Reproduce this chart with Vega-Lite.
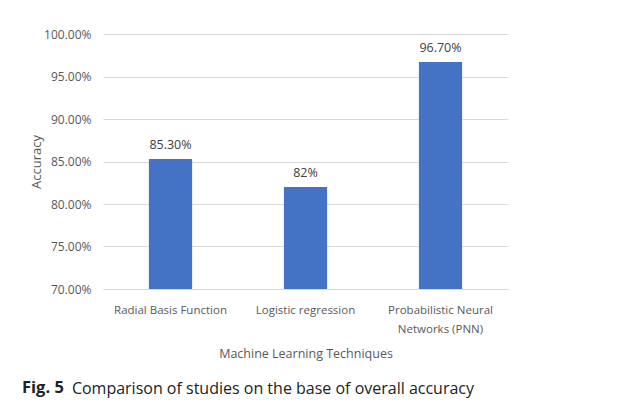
{
  "$schema": "https://vega.github.io/schema/vega-lite/v6.json",
  "autosize": {"type": "none"},
  "width": 405,
  "height": 255,
  "padding": {"left": 103, "top": 34, "right": 117, "bottom": 113},
  "background": "white",
  "data": {
    "values": [
      {"technique": "Radial Basis Function", "accuracy": 0.853, "label": "85.30%"},
      {"technique": "Logistic regression", "accuracy": 0.82, "label": "82%"},
      {"technique": "Probabilistic Neural Networks (PNN)", "accuracy": 0.967, "label": "96.70%"}
    ]
  },
  "title": {
    "text": "Fig. 5",
    "subtitle": "\u200b\u00a0\u00a0\u00a0\u00a0\u00a0\u00a0\u00a0\u00a0\u00a0\u00a0\u00a0\u00a0Comparison of studies on the base of overall accuracy",
    "orient": "bottom",
    "anchor": "start",
    "frame": "group",
    "dx": -81,
    "offset": 20,
    "font": "Open Sans",
    "fontSize": 16.5,
    "fontWeight": "bold",
    "color": "#222222",
    "subtitleFont": "Open Sans",
    "subtitleFontSize": 16,
    "subtitleFontWeight": "normal",
    "subtitleColor": "#222222",
    "subtitlePadding": -16
  },
  "encoding": {
    "x": {
      "field": "technique",
      "type": "nominal",
      "sort": null,
      "scale": {"paddingInner": 0.68, "paddingOuter": 0.34},
      "axis": {
        "title": "Machine Learning Techniques",
        "labelAngle": 0,
        "labelFont": "Open Sans",
        "labelFontSize": 11.5,
        "labelColor": "#595959",
        "labelPadding": 15,
        "labelLineHeight": 19,
        "labelExpr": "datum.value == 'Probabilistic Neural Networks (PNN)' ? ['Probabilistic Neural', 'Networks (PNN)'] : datum.value",
        "ticks": false,
        "domain": true,
        "domainColor": "#d9d9d9",
        "titleFont": "Open Sans",
        "titleFontSize": 12.5,
        "titleFontWeight": "normal",
        "titleColor": "#595959",
        "titlePadding": 13
      }
    },
    "y": {
      "field": "accuracy",
      "type": "quantitative",
      "scale": {"domain": [0.7, 1.0], "nice": false, "zero": false},
      "axis": {
        "title": "Accuracy",
        "format": ".2%",
        "values": [0.7, 0.75, 0.8, 0.85, 0.9, 0.95, 1.0],
        "labelFont": "Open Sans",
        "labelFontSize": 12,
        "labelColor": "#595959",
        "labelPadding": 12,
        "ticks": false,
        "domain": false,
        "grid": true,
        "gridColor": "#d9d9d9",
        "titleFont": "Open Sans",
        "titleFontSize": 13,
        "titleFontWeight": "normal",
        "titleColor": "#595959",
        "titlePadding": 0
      }
    }
  },
  "layer": [
    {"mark": {"type": "bar", "color": "#4472C4"}, "encoding": {"y2": {"datum": 0.7}}},
    {
      "mark": {"type": "text", "dy": -14, "font": "Open Sans", "fontSize": 12.5, "color": "#404040"},
      "encoding": {"text": {"field": "label"}}
    }
  ],
  "config": {"view": {"stroke": null}}
}
